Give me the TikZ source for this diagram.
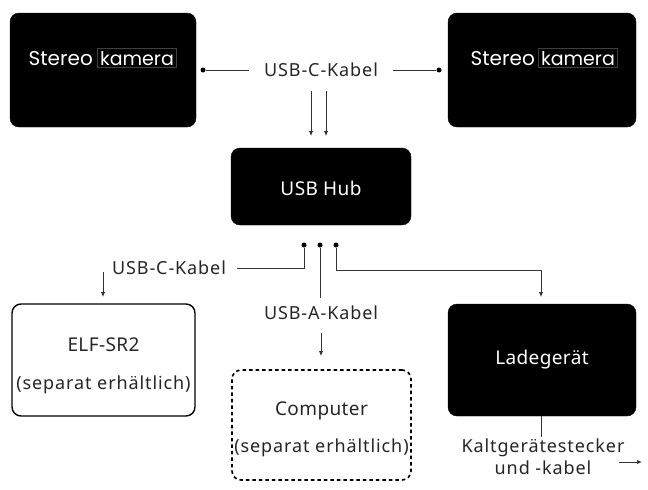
\documentclass[tikz,border=0pt]{standalone}
\usepackage{fontspec}
\setmainfont{Noto Sans}
\newfontfamily\lblfont[LetterSpace=5]{Noto Sans}
\newfontfamily\boxfont[LetterSpace=2]{Noto Sans}
\newfontfamily\popfont{Poppins}
\usetikzlibrary{arrows.meta,positioning}
\tikzset{
  blackbox/.style={fill=black,draw=black,rounded corners=9pt,inner sep=0pt},
  whitebox/.style={fill=white,draw=black,line width=1.4pt,rounded corners=9pt,inner sep=0pt},
  dashbox/.style={fill=white,draw=black,line width=1.6pt,dash pattern=on 3.5pt off 3pt,rounded corners=9pt,inner sep=0pt},
  lbl/.style={font=\lblfont\fontsize{18}{22}\selectfont,text=black!85,inner sep=1pt},
  wlbl/.style={font=\boxfont\fontsize{19}{22}\selectfont,text=white,inner sep=0pt},
  blbl/.style={font=\boxfont\fontsize{19}{22}\selectfont,text=black!85,inner sep=0pt},
  wire/.style={draw=black!80,line width=0.9pt},
  arr/.style={wire,-{Latex[length=5pt,width=4.5pt]}},
  dot/.style={circle,fill=black,inner sep=0pt,minimum size=5pt},
  stt/.style={font=\popfont\fontsize{20}{22}\selectfont,text=white,inner sep=0pt,anchor=base east},
  kam/.style={font=\popfont\fontsize{19}{21}\selectfont,text=white,draw=black!75!white,fill=black,line width=1pt,inner xsep=2.5pt,inner ysep=2pt,anchor=base west}
}
\begin{document}
\begin{tikzpicture}[x=1pt,y=-1pt]
\useasboundingbox[fill=white] (0,0) rectangle (648,490);
% boxes
\node[blackbox,minimum width=186pt,minimum height=114pt] (camL) at (103,70) {};
\node[blackbox,minimum width=188pt,minimum height=114pt] (camR) at (542,70) {};
\node[blackbox,minimum width=180pt,minimum height=77pt] (hub) at (321,186.5) {};
\node[whitebox,minimum width=183pt,minimum height=112pt] (elf) at (103.5,360) {};
\node[dashbox,minimum width=179pt,minimum height=110pt] (comp) at (321.5,425) {};
\node[blackbox,minimum width=188pt,minimum height=112pt] (lade) at (542,360) {};
% camera texts
\node[stt] (stL) at (93,65) {Stereo};
\node[kam] (kaL) at (97,65) {kamera};
\node[stt] (stR) at (535,65) {Stereo};
\node[kam] (kaR) at (538,65) {kamera};
% other texts
\node[wlbl] (hubt) at (321,188) {USB Hub};
\node[blbl] (elft) at (103.5,345) {ELF-SR2};
\node[lbl] (elfs) at (103.5,385) {(separat erhältlich)};
\node[blbl] (compt) at (321.5,411) {Computer};
\node[lbl] (comps) at (321.5,448) {(separat erhältlich)};
\node[wlbl] (ladet) at (542,360) {Ladegerät};
% connector labels
\node[lbl] (usbc1) at (321,70) {USB-C-Kabel};
\node[lbl] (usbc2) at (169,268) {USB-C-Kabel};
\node[lbl] (usba) at (321,313) {USB-A-Kabel};
\node[lbl,align=center] (kalt) at (543,457) {Kaltgerätestecker\\und -kabel};
% dots and coordinates
\node[dot] (dL) at (203,70) {};
\node[dot] (dR) at (439,70) {};
\coordinate (lL) at (249,70);
\coordinate (lR) at (393,70);
\node[dot] (h1) at (304,245) {};
\node[dot] (h2) at (320,245) {};
\node[dot] (h3) at (336,245) {};
\coordinate (a1s) at (311,91);
\coordinate (a1e) at (311,136);
\coordinate (a2s) at (326,91);
\coordinate (a2e) at (326,136);
\coordinate (c1) at (304,268);
\coordinate (c2) at (237,268);
\coordinate (e1s) at (103,272);
\coordinate (e1e) at (103,297);
\coordinate (m1) at (320,298);
\coordinate (m2s) at (321,333);
\coordinate (m2e) at (321,356);
\coordinate (r1) at (336,270);
\coordinate (r2) at (541,270);
\coordinate (r3) at (541,297);
\coordinate (ld1) at (541,416);
\coordinate (ld2) at (541,437);
\coordinate (k1) at (619,462);
\coordinate (k2) at (642,462);
% connectors
\draw[wire] (dL) -- (lL);
\draw[wire] (lR) -- (dR);
\draw[arr] (a1s) -- (a1e);
\draw[arr] (a2s) -- (a2e);
\draw[wire] (h1) -- (c1) -- (c2);
\draw[arr] (e1s) -- (e1e);
\draw[wire] (h2) -- (m1);
\draw[arr] (m2s) -- (m2e);
\draw[arr] (h3) -- (r1) -- (r2) -- (r3);
\draw[wire] (ld1) -- (ld2);
\draw[arr] (k1) -- (k2);
\end{tikzpicture}
\end{document}
